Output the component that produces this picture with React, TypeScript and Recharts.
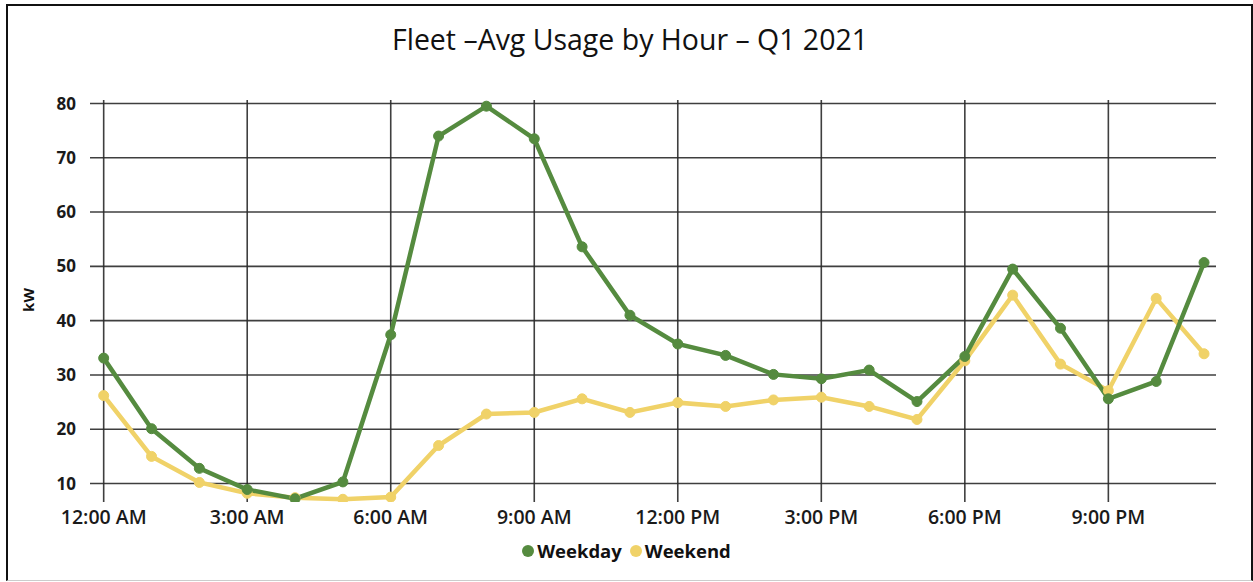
import React from 'react';
import { LineChart, Line, XAxis, YAxis, CartesianGrid } from 'recharts';

const hours = [0, 1, 2, 3, 4, 5, 6, 7, 8, 9, 10, 11, 12, 13, 14, 15, 16, 17, 18, 19, 20, 21, 22, 23];
const weekday = [33.1, 20.1, 12.8, 8.9, 7.2, 10.3, 37.4, 74.0, 79.5, 73.5, 53.6, 41.0, 35.7, 33.6, 30.1, 29.3, 30.9, 25.1, 33.4, 49.5, 38.6, 25.6, 28.8, 50.7];
const weekend = [26.2, 15.0, 10.2, 8.2, 7.4, 7.1, 7.5, 17.0, 22.8, 23.1, 25.6, 23.1, 24.9, 24.2, 25.4, 25.9, 24.2, 21.8, 32.6, 44.7, 32.0, 27.1, 44.1, 33.9];
const xTicks = [0, 3, 6, 9, 12, 15, 18, 21];
const xTickLabels = ['12:00 AM', '3:00 AM', '6:00 AM', '9:00 AM', '12:00 PM', '3:00 PM', '6:00 PM', '9:00 PM'];
const yTicks = [10, 20, 30, 40, 50, 60, 70, 80];
const xDomain = [-0.286, 23.25];
const yDomain = [6.6, 80.64];
const seriesNames = ['Weekday', 'Weekend'];
const title = 'Fleet \u2013Avg Usage by Hour \u2013 Q1 2021';
const yLabel = 'kW';

const GREEN = '#558B3F';
const YELLOW = '#F0D268';
const FONT = '"Open Sans", "Noto Sans", sans-serif';

const data = hours.map((h, i) => ({ hour: h, weekday: weekday[i], weekend: weekend[i] }));

const fmtX = (v: number) => {
  const i = xTicks.indexOf(v);
  return i >= 0 ? xTickLabels[i] : '';
};

const vGen = (props: any) => {
  const s = props && props.xAxis && props.xAxis.scale;
  if (typeof s === 'function') return xTicks.map((t) => s(t));
  if (s && typeof s.map === 'function') return xTicks.map((t) => s.map(t));
  const o = props.offset;
  return xTicks.map((t) => o.left + ((t - xDomain[0]) / (xDomain[1] - xDomain[0])) * o.width);
};
const hGen = (props: any) => {
  const s = props && props.yAxis && props.yAxis.scale;
  if (typeof s === 'function') return yTicks.map((t) => s(t));
  if (s && typeof s.map === 'function') return yTicks.map((t) => s.map(t));
  const o = props.offset;
  return yTicks.map((t) => o.top + ((yDomain[1] - t) / (yDomain[1] - yDomain[0])) * o.height);
};

export default function App() {
  return (
    <div style={{ position: 'absolute', left: 0, top: 0, width: 1253, height: 582, background: '#fff', overflow: 'hidden' }}>
      <div
        style={{
          position: 'absolute', left: 6, top: 4, width: 1247, height: 577, boxSizing: 'border-box',
          borderLeft: '2px solid #111', borderRight: '2px solid #111', borderTop: '2px solid #111', borderBottom: '1px solid #ccc',
        }}
      />
      <div style={{ position: 'absolute', left: 0, top: 0 }}>
        <LineChart width={1253} height={582} data={data} margin={{ top: 100, right: 37, bottom: 50, left: 30 }}>
          <CartesianGrid stroke="#2a2a2a" strokeWidth={1.6} strokeOpacity={0.9}
            verticalCoordinatesGenerator={vGen} horizontalCoordinatesGenerator={hGen} />
          <XAxis
            dataKey="hour"
            type="number"
            domain={xDomain}
            allowDataOverflow
            ticks={xTicks}
            tickFormatter={fmtX}
            axisLine={false}
            tickLine={false}
            tickSize={0}
            tickMargin={8}
            height={30}
            tick={{ fill: '#1a1a1a', fontSize: 19.5, fontWeight: 600, fontFamily: FONT }}
            interval={0}
          />
          <YAxis
            type="number"
            domain={yDomain}
            allowDataOverflow
            ticks={yTicks}
            width={60}
            axisLine={false}
            tickLine={false}
            tickSize={0}
            tickMargin={14}
            tick={{ fill: '#1a1a1a', fontSize: 17, fontWeight: 700, fontFamily: FONT }}
            interval={0}
          />
          <Line type="linear" dataKey="weekend" name={seriesNames[1]} stroke={YELLOW} strokeWidth={4.5}
            dot={{ r: 5, fill: YELLOW, stroke: YELLOW, strokeWidth: 1 }} isAnimationActive={false} />
          <Line type="linear" dataKey="weekday" name={seriesNames[0]} stroke={GREEN} strokeWidth={4.5}
            dot={{ r: 5, fill: GREEN, stroke: GREEN, strokeWidth: 1 }} isAnimationActive={false} />
        </LineChart>
      </div>
      <svg width={1253} height={582} style={{ position: 'absolute', left: 0, top: 0, pointerEvents: 'none' }}>
        <text x={630} y={50} textAnchor="middle" fontFamily={FONT} fontSize={29} fill="#111"
          textLength={476} lengthAdjust="spacingAndGlyphs">{title}</text>
        <text x={0} y={0} transform="translate(34,300) rotate(-90)" textAnchor="middle" fontFamily={FONT}
          fontSize={15} fontWeight={700} fill="#111">{yLabel}</text>
      </svg>
      <div style={{ position: 'absolute', left: 0, top: 538, width: 1253, display: 'flex', justifyContent: 'center', alignItems: 'center', fontFamily: FONT, fontWeight: 700, fontSize: 18.5, color: '#111' }}>
        {[GREEN, YELLOW].map((c, i) => (
          <div key={i} style={{ display: 'flex', alignItems: 'center', marginRight: i === 0 ? 8 : 0 }}>
            <span style={{ display: 'inline-block', width: 12, height: 12, borderRadius: 6, background: c, marginRight: 3 }} />
            <span>{seriesNames[i]}</span>
          </div>
        ))}
      </div>
    </div>
  );
}
